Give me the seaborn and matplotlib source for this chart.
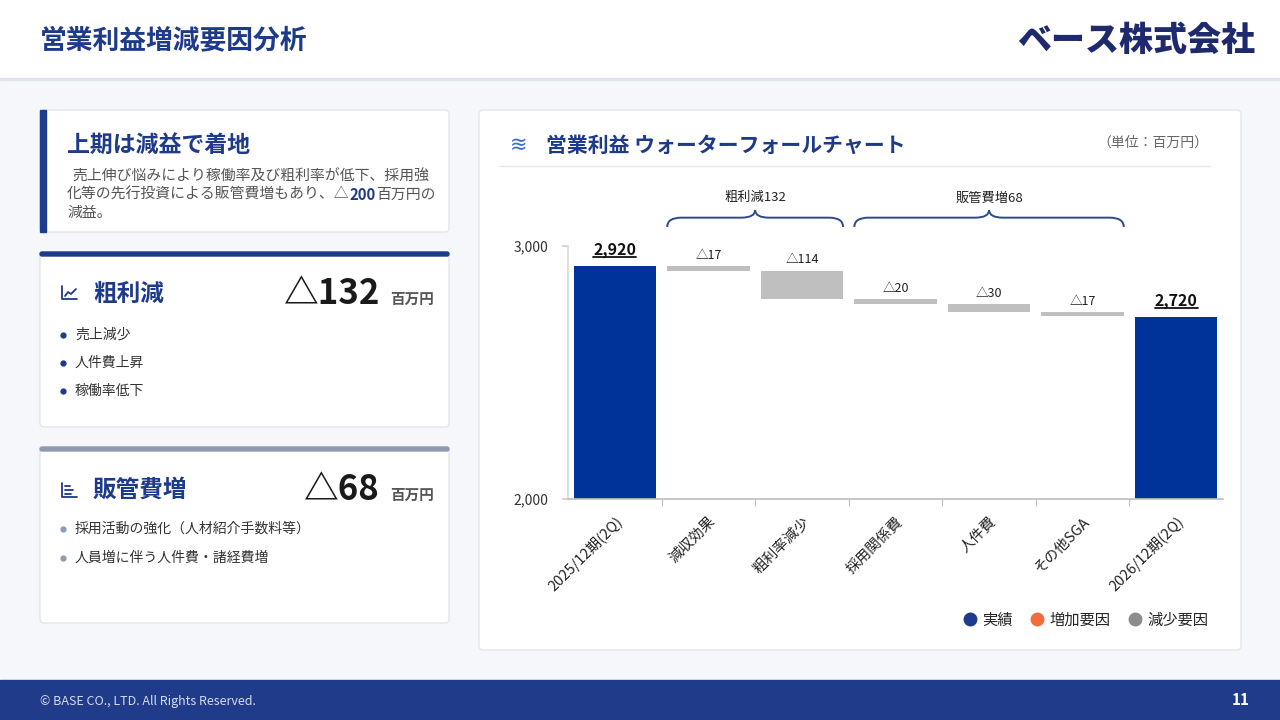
import numpy as np
import matplotlib
matplotlib.use('Agg')
import matplotlib.pyplot as plt
from matplotlib.patches import FancyBboxPatch, Rectangle, PathPatch
from matplotlib.path import Path
from matplotlib.lines import Line2D
import seaborn as sns

# chart data
categories = ['2025/12期(2Q)', '減収効果', '粗利率減少', '採用関係費', '人件費', 'その他SGA', '2026/12期(2Q)']
amounts = [2920, -17, -114, -20, -30, -17, 2720]
kinds = ['実績', '減少要因', '減少要因', '減少要因', '減少要因', '減少要因', '実績']
brace_labels = ['粗利減132', '販管費増68']
brace_spans = [(1, 2), (3, 5)]
legend_labels = ['実績', '増加要因', '減少要因']
y_ticks = [2000, 3000]

# side panel texts
gross_items = ['売上減少', '人件費上昇', '稼働率低下']
sga_items = ['採用活動の強化（人材紹介手数料等）', '人員増に伴う人件費・諸経費増']

NAVY = '#1E3A8A'
colors = {'実績': '#003399', '増加要因': '#F36C3A', '減少要因': '#BFBFBF'}
legend_colors = {'実績': '#1F3B8A', '増加要因': '#F36C3A', '減少要因': '#8C8C8C'}

sns.set_theme(style='white')
plt.rcParams['font.family'] = ['Noto Sans CJK JP', 'DejaVu Sans']

fig = plt.figure(figsize=(12.8, 7.2), dpi=100)
fig.patch.set_facecolor('#F5F7FA')

# background axes in pixel coordinates
bg = fig.add_axes([0, 0, 1, 1])
bg.set_xlim(0, 1280)
bg.set_ylim(720, 0)
bg.axis('off')

# header / footer
bg.add_patch(Rectangle((0, 0), 1280, 78, color='white', zorder=0))
bg.add_patch(Rectangle((0, 78), 1280, 2, color='#DFE4EC', zorder=0))
bg.add_patch(Rectangle((0, 680), 1280, 40, color='#1F3B8A', zorder=0))
bg.text(40, 40, '営業利益増減要因分析', fontsize=19.3, fontweight='bold', color=NAVY, va='center')
bg.text(1255, 40, 'ベース株式会社', fontsize=24.5, fontweight='heavy', color='#1F2A6E', va='center', ha='right')
bg.text(40, 701, '© BASE CO., LTD. All Rights Reserved.', fontsize=9, color='#D5DCEB', va='center')
bg.text(1250, 700, '11', fontsize=11, fontweight='bold', color='white', va='center', ha='right')

def panel(x0, y0, x1, y1):
    bg.add_patch(FancyBboxPatch((x0, y0), x1 - x0, y1 - y0, boxstyle='round,pad=0,rounding_size=4',
                                facecolor='white', edgecolor='#E2E6ED', lw=1, zorder=1))

panel(40, 110, 449, 232)
panel(40, 252, 449, 427)
panel(40, 447, 449, 623)
panel(479, 110, 1241, 650)

# panel 1
bg.add_patch(Rectangle((40, 110), 6, 122, color=NAVY, zorder=2))
bg.text(67, 145, '上期は減益で着地', fontsize=16.5, fontweight='bold', color=NAVY, va='center', zorder=3)
body_gray = '#555555'
bg.text(72, 177, '売上伸び悩みにより稼働率及び粗利率が低下、採用強', fontsize=10.7, color=body_gray, va='center', zorder=3)
r = fig.canvas.get_renderer()
x = 67
for s, w, c in [('化等の先行投資による販管費増もあり、△', 'normal', body_gray),
                ('200', 'bold', NAVY), ('百万円の', 'normal', body_gray)]:
    t = bg.text(x, 195, s, fontsize=10.7, fontweight=w, color=c, va='center', zorder=3)
    x += t.get_window_extent(renderer=r).width
bg.text(67, 213, '減益。', fontsize=10.7, color=body_gray, va='center', zorder=3)

# panel 2 and 3
bg.add_patch(FancyBboxPatch((40, 252), 409, 4, boxstyle='round,pad=0,rounding_size=2', color=NAVY, zorder=2))
bg.add_patch(FancyBboxPatch((40, 447), 409, 4, boxstyle='round,pad=0,rounding_size=2', color='#8F9BB3', zorder=2))

# small icons
bg.plot([62, 62, 77], [286, 299, 299], color=NAVY, lw=1.3, zorder=3)
bg.plot([65, 68, 71, 76], [296, 292, 294, 289], color=NAVY, lw=1.3, zorder=3)
bg.plot([62, 62, 77], [483, 497, 497], color=NAVY, lw=1.3, zorder=3)
for yy, ln in [(486, 5), (490, 8), (494, 6)]:
    bg.plot([65, 65 + ln], [yy, yy], color=NAVY, lw=1.3, zorder=3)

for y_title, title, value, items, dot in [(294, '粗利減', '△132', gross_items, NAVY),
                                         (490, '販管費増', '△68', sga_items, '#8F9BB3')]:
    bg.text(93, y_title, title, fontsize=17, fontweight='bold', color=NAVY, va='center', zorder=3)
    bg.text(380, y_title, value, fontsize=25, fontweight='bold', color='#1A1A1A', va='center', ha='right', zorder=3)
    bg.text(390, y_title + 5, '百万円', fontsize=10.5, fontweight='bold', color='#555555', va='center', zorder=3)
    gap = 28 if len(items) == 3 else 29
    for k, item in enumerate(items):
        yy = y_title + 41 + gap * k - (2 if len(items) == 2 else 0)
        bg.plot(63, yy, 'o', ms=3.5, color=dot, zorder=3)
        bg.text(75, yy, item, fontsize=10, color='#333333', va='center', zorder=3)

# right panel header
bg.text(519, 145, '≋', fontsize=15, color='#3A6BD0', va='center', ha='center', family='DejaVu Sans', zorder=3)
bg.text(546, 145, '営業利益 ウォーターフォールチャート', fontsize=15, fontweight='bold', color=NAVY, va='center', zorder=3)
bg.text(1208, 143, '（単位：百万円）', fontsize=10, color='#666666', va='center', ha='right', zorder=3)
bg.plot([499, 1210], [166, 166], color='#E5E8EE', lw=1, zorder=3)

# waterfall levels
level = 0
bottoms, tops = [], []
for a, k in zip(amounts, kinds):
    if k == '実績':
        bottoms.append(0)
        tops.append(a)
        level = a
    else:
        new = level + a
        bottoms.append(min(level, new))
        tops.append(max(level, new))
        level = new

# chart axes: x 568-1223 px, y 180-499 px
ax = fig.add_axes([568 / 1280, 1 - 499 / 720, (1223 - 568) / 1280, (499 - 180) / 720])
ax.patch.set_alpha(0)
sns.barplot(x=categories, y=tops, hue=categories, palette=[colors[k] for k in kinds],
            dodge=False, legend=False, width=0.88, saturation=1, errorbar=None, ax=ax)
for p in ax.patches:
    i = int(round(p.get_x() + p.get_width() / 2))
    p.set_y(bottoms[i])
    p.set_height(tops[i] - bottoms[i])
    p.set_edgecolor('none')

ax.set_xlim(-0.5, len(categories) - 0.5)
ax.set_ylim(2000, 3000 + 66 * 1000 / 253)
ax.set_xlabel('')
ax.set_ylabel('')
ax.set_yticks(y_ticks)
ax.set_yticklabels([f'{v:,}' for v in y_ticks], fontsize=10, color='#333333')
ax.tick_params(axis='y', length=4, color='#D0D0D0', pad=10, left=True)
ax.set_xticks(range(len(categories)))
ax.set_xticklabels(categories, rotation=45, ha='right', rotation_mode='anchor', fontsize=10.5, color='#222222')
ax.tick_params(axis='x', which='major', length=0, pad=11)
ax.set_xticks(np.arange(0.5, len(categories) - 1, 1), minor=True)
ax.tick_params(axis='x', which='minor', length=5, color='#BFBFBF', width=0.8, bottom=True)
for s in ['top', 'right']:
    ax.spines[s].set_visible(False)
ax.spines['left'].set_bounds(2000, 3000)
ax.spines['left'].set_color('#D9D9D9')
ax.spines['bottom'].set_color('#BFBFBF')

# value labels
total_texts = []
for i, (a, k) in enumerate(zip(amounts, kinds)):
    if k == '実績':
        t = ax.annotate(f'{a:,}', (i, tops[i]), xytext=(0, 6), textcoords='offset points',
                        ha='center', va='bottom', fontsize=11.5, fontweight='bold', color='#111111')
        total_texts.append(t)
    else:
        ax.annotate(f'△{abs(a)}', (i, tops[i]), xytext=(0, 3), textcoords='offset points',
                    ha='center', va='bottom', fontsize=9, color='#222222')

# braces over the factor groups
def brace(x0, x1, y_end, y_mid, y_peak, d=0.15):
    xm = (x0 + x1) / 2
    verts = [(x0, y_end), (x0, y_mid), (x0 + d, y_mid), (xm - d, y_mid), (xm, y_mid), (xm, y_peak),
             (xm, y_mid), (xm + d, y_mid), (x1 - d, y_mid), (x1, y_mid), (x1, y_end)]
    codes = [Path.MOVETO, Path.CURVE3, Path.CURVE3, Path.LINETO, Path.CURVE3, Path.CURVE3,
             Path.CURVE3, Path.CURVE3, Path.LINETO, Path.CURVE3, Path.CURVE3]
    ax.add_patch(PathPatch(Path(verts, codes), facecolor='none', edgecolor='#2E4A8C', lw=1.4, clip_on=False))
    return xm

for (c0, c1), lab in zip(brace_spans, brace_labels):
    xm = brace(c0 - 0.44, c1 + 0.44, 3075, 3112, 3142)
    ax.text(xm, 3190, lab, ha='center', va='center', fontsize=9.5, color='#222222')

# legend
handles = [Line2D([], [], marker='o', ls='', ms=9, color=legend_colors[l]) for l in legend_labels]
fig.legend(handles, legend_labels, loc='center right', bbox_to_anchor=(1222 / 1280, 1 - 620 / 720),
           ncol=3, frameon=False, fontsize=11, handletextpad=0.2, columnspacing=1.0, handlelength=1.2)

# underline the totals
fig.canvas.draw()
r = fig.canvas.get_renderer()
for t in total_texts:
    bb = t.get_window_extent(renderer=r)
    yline = 720 - bb.y0 - 1
    bg.plot([bb.x0, bb.x1], [yline, yline], color='#111111', lw=1.3, zorder=3)

fig.savefig('out.png', dpi=100)
